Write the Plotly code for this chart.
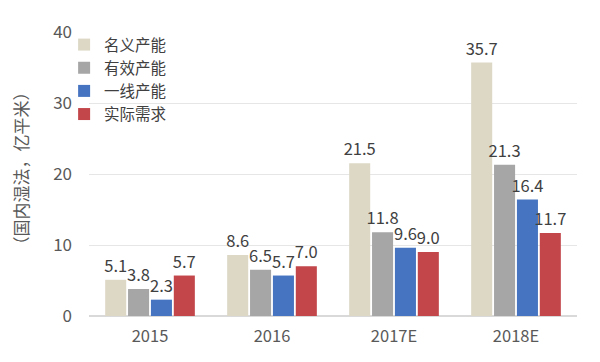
import plotly.graph_objects as go

categories = ["2015", "2016", "2017E", "2018E"]
series_names = ["名义产能", "有效产能", "一线产能", "实际需求"]
nominal = [5.1, 8.6, 21.5, 35.7]
effective = [3.8, 6.5, 11.8, 21.3]
tier1 = [2.3, 5.7, 9.6, 16.4]
demand = [5.7, 7.0, 9.0, 11.7]
y_ticks = [0, 10, 20, 30, 40]
y_title = "（国内湿法，亿平米）"

colors = ["#DDD8C6", "#A6A6A6", "#4674C1", "#C2464A"]
values = [nominal, effective, tier1, demand]

font_family = "Noto Sans CJK SC, Noto Sans, sans-serif"

fig = go.Figure()
for name, vals, col in zip(series_names, values, colors):
    fig.add_trace(go.Bar(
        x=categories, y=vals, name=name,
        marker=dict(color=col, line=dict(width=0)),
        text=[f"{v:.1f}" for v in vals],
        textposition="outside",
        textfont=dict(size=16.5, color="#404040", family=font_family),
        cliponaxis=False,
        constraintext="none",
    ))

fig.update_layout(
    width=592, height=354,
    paper_bgcolor="white", plot_bgcolor="white",
    margin=dict(l=81, r=23, t=24, b=46, autoexpand=False),
    barmode="group", bargap=0.25, bargroupgap=0.08,
    font=dict(family=font_family, color="#595959"),
    showlegend=True,
    legend=dict(x=-0.051, y=1.014, xanchor="left", yanchor="top",
                bgcolor="rgba(0,0,0,0)", font=dict(size=15.5, color="#404040"),
                itemwidth=30, tracegroupgap=0, traceorder="normal"),
    xaxis=dict(tickfont=dict(size=16.5, color="#595959"), showline=False,
               ticks="", showgrid=False, automargin=False, ticklabelstandoff=8),
    yaxis=dict(range=[0, 40], tickvals=y_ticks, tickfont=dict(size=17, color="#595959"),
               gridcolor="#E6E6E6", zeroline=True, zerolinecolor="#D9D9D9",
               ticks="", showline=False, automargin=False, ticklabelstandoff=16),
    annotations=[dict(text=y_title, xref="paper", yref="paper",
                      x=-0.141, y=0.52, xanchor="center", yanchor="middle",
                      textangle=-90, showarrow=False,
                      font=dict(size=17, color="#595959", family=font_family))],
)

fig.write_html("out.html")
